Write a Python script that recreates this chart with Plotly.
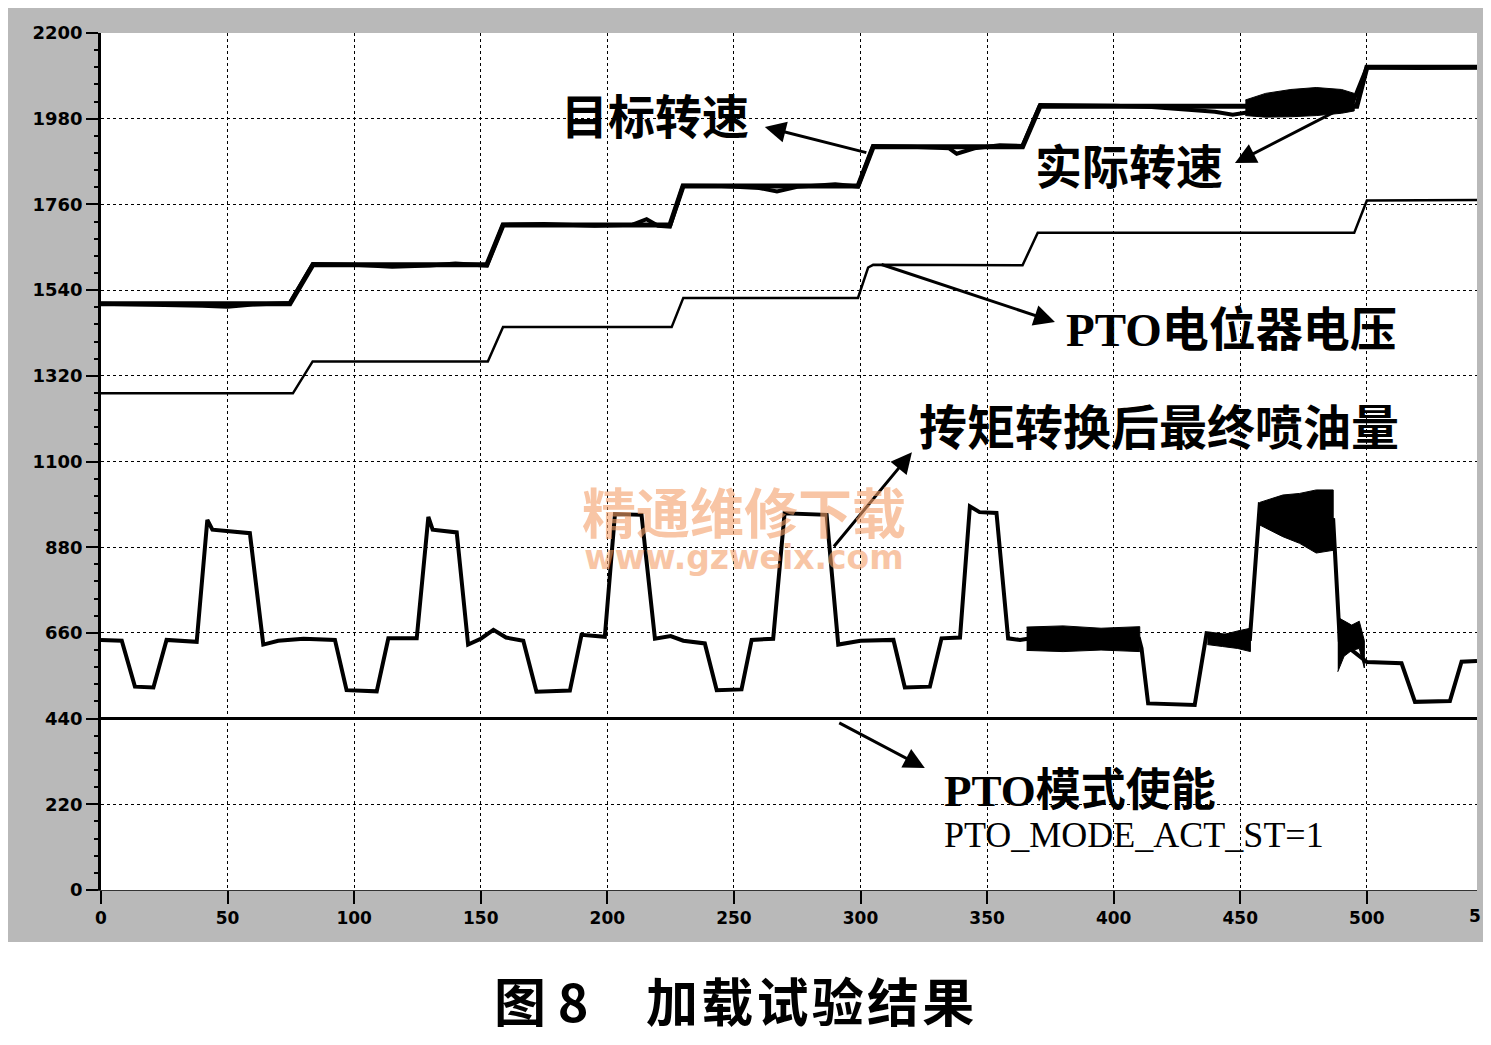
import plotly.graph_objects as go

# ---------------- data ----------------
x_ticks = [0, 50, 100, 150, 200, 250, 300, 350, 400, 450, 500, 550]
y_ticks = [0, 220, 440, 660, 880, 1100, 1320, 1540, 1760, 1980, 2200]

# 目标转速 (target speed)
target_t = [0, 74.6, 83.7, 152.4, 158.8, 224.7, 229.9, 299, 305, 364, 370.9, 496, 500, 543.5]
target_v = [1505, 1505, 1605, 1605, 1707, 1707, 1807, 1807, 1908, 1908, 2012, 2012, 2112, 2112]

# 实际转速 (actual speed)
actual_t = [0, 20, 40, 50, 60, 74.6, 83.7, 100, 115, 130, 140, 152.4, 158.8, 175, 195, 210,
            215.5, 220, 224.7, 229.9, 245, 260, 267, 275, 285, 290, 299, 305, 320, 335, 338,
            345, 355, 364, 370.9, 385, 400, 415, 430, 440, 447, 452, 494, 500, 520, 543.5]
actual_v = [1505, 1503, 1500, 1497, 1503, 1507, 1607, 1605, 1600, 1603, 1608, 1603, 1708, 1710,
            1705, 1708, 1722, 1705, 1703, 1808, 1807, 1802, 1793, 1805, 1808, 1812, 1806, 1910,
            1908, 1904, 1890, 1904, 1912, 1910, 2015, 2015, 2013, 2010, 2003, 1998, 1990, 1995,
            2015, 2112, 2110, 2112]

# speed oscillation envelope
speed_band_t = [452, 460, 470, 480, 490, 495]
speed_band_hi = [2028, 2045, 2055, 2060, 2055, 2045]
speed_band_lo = [1988, 1984, 1985, 1988, 1994, 2000]

# PTO电位器电压 (PTO potentiometer voltage)
pot_t = [0, 75.8, 83.6, 152.8, 158.8, 225.4, 230, 299, 303, 305, 364, 370, 495, 500, 543.5]
pot_v = [1275, 1275, 1357, 1357, 1445, 1445, 1520, 1520, 1598, 1605, 1604, 1687, 1687, 1770, 1771]

# 抟矩转换后最终喷油量 (final fuel injection quantity)
fuel_t = [0, 8.2, 13.4, 20.7, 25.9, 37.8, 42, 44, 58.8, 64.1, 70, 80, 92.4, 97, 108.9, 113.5,
          124.7, 129.3, 131, 140.5, 145, 150, 155, 160, 166.8, 172, 185.2, 189.8, 199, 203,
          213.5, 218.8, 225, 230, 238.5, 243.2, 253, 257, 265.5, 270, 286.6, 291.2, 300, 313,
          317.5, 327.4, 332, 339.3, 343.2, 347, 353.7, 358.3, 363, 366, 410, 411, 413.6, 432,
          436.7, 453.8, 457.7, 486.7, 489.3, 497.2, 500, 513.7, 519, 532.8, 537.4, 543.5]
fuel_v = [642, 640, 522, 520, 642, 637, 950, 925, 916, 630, 640, 645, 642, 513, 510, 646,
          646, 958, 925, 918, 630, 645, 668, 648, 640, 509, 512, 655, 650, 965,
          963, 645, 652, 640, 633, 513, 515, 642, 645, 967, 963, 630, 640, 642,
          520, 522, 646, 648, 985, 970, 968, 646, 642, 645, 645, 620, 479, 475,
          659, 645, 990, 950, 640, 600, 585, 582, 483, 485, 586, 588]

# fuel oscillation envelopes
fuel_bandA_t = [365.6, 380, 395, 410.3]
fuel_bandA_hi = [675, 678, 672, 676]
fuel_bandA_lo = [615, 612, 616, 612]
fuel_bandB_t = [437, 443, 449, 454]
fuel_bandB_hi = [660, 655, 665, 672]
fuel_bandB_lo = [630, 625, 620, 612]
fuel_bandC_t = [457.7, 466.8, 473.4, 480, 486.7]
fuel_bandC_hi = [995, 1014, 1018, 1027, 1027]
fuel_bandC_lo = [937, 907, 890, 865, 872]
fuel_bandD_t = [488.5, 491, 494, 497, 499]
fuel_bandD_hi = [700, 690, 680, 690, 640]
fuel_bandD_lo = [560, 600, 615, 620, 570]

# PTO模式使能 (PTO_MODE_ACT_ST=1)
mode_t = [0, 543.5]
mode_v = [440, 440]

# ---------------- figure ----------------
# page has an 8px body margin; figure is sized/placed to fill the window
FIG_W, FIG_H = 1475, 1029
PLOT_W, PLOT_H = 1376, 857

fig = go.Figure()


def band(t, hi, lo):
    fig.add_trace(go.Scatter(x=t + t[::-1], y=hi + lo[::-1], mode="lines", fill="toself",
                             fillcolor="black", line=dict(color="black", width=1),
                             hoverinfo="skip", showlegend=False))


fig.add_trace(go.Scatter(x=mode_t, y=mode_v, mode="lines", line=dict(color="black", width=3),
                         name="PTO模式使能"))
fig.add_trace(go.Scatter(x=pot_t, y=pot_v, mode="lines", line=dict(color="black", width=2.5),
                         name="PTO电位器电压"))
fig.add_trace(go.Scatter(x=target_t, y=target_v, mode="lines", line=dict(color="black", width=5),
                         name="目标转速"))
fig.add_trace(go.Scatter(x=actual_t, y=actual_v, mode="lines", line=dict(color="black", width=4),
                         name="实际转速"))
band(speed_band_t, speed_band_hi, speed_band_lo)
fig.add_trace(go.Scatter(x=fuel_t, y=fuel_v, mode="lines", line=dict(color="black", width=4),
                         name="最终喷油量"))
band(fuel_bandA_t, fuel_bandA_hi, fuel_bandA_lo)
band(fuel_bandB_t, fuel_bandB_hi, fuel_bandB_lo)
band(fuel_bandC_t, fuel_bandC_hi, fuel_bandC_lo)
band(fuel_bandD_t, fuel_bandD_hi, fuel_bandD_lo)

label_font = dict(family="Liberation Serif, Noto Sans CJK SC", color="black", weight="bold")
labels = [
    ("目标转速", 219, 1982, 47),
    ("实际转速", 406, 1853, 47),
    ("PTO电位器电压", 446.5, 1437, 47),
    ("抟矩转换后最终喷油量", 418, 1186, 48),
    ("PTO模式使能", 386.5, 254, 45),
]
annotations = []
for txt, x, y, s in labels:
    f = dict(label_font)
    f["size"] = s
    annotations.append(dict(x=x, y=y, xref="x", yref="y", text=txt, showarrow=False, font=f,
                            xanchor="center", yanchor="middle"))
annotations.append(dict(x=408, y=140, xref="x", yref="y", text="PTO_MODE_ACT_ST=1", showarrow=False,
                        xanchor="center", yanchor="middle",
                        font=dict(family="Liberation Serif", size=36, color="black")))

# arrows: head at the label end, tail on the curve
arrows = [
    (262.2, 1959, 302.9, 1892),
    (447.9, 1866, 494.0, 2020),
    (376.8, 1458, 307.7, 1607),
    (320.3, 1124, 289.0, 878),
    (325.4, 313, 291.0, 431),
]
for hx, hy, tx, ty in arrows:
    annotations.append(dict(x=hx, y=hy, xref="x", yref="y", ax=tx, ay=ty, axref="x", ayref="y",
                            text="", showarrow=True, arrowhead=2, arrowsize=1.4, arrowwidth=3,
                            arrowcolor="black"))

# watermark (two lines in one text block)
annotations.append(dict(x=254, y=940, xref="x", yref="y",
                        text="<span style='font-size:54px;font-family:Noto Sans CJK SC'>精通维修下载</span>"
                             "<br><span style='font-size:33px'>www.gzweix.com</span>",
                        showarrow=False, xanchor="center", yanchor="middle",
                        font=dict(family="DejaVu Sans", size=27, color="#f4a06a", weight="bold"),
                        opacity=0.6))

# clipped last x tick label
annotations.append(dict(x=1 + 6 / PLOT_W, y=-26 / PLOT_H, xref="paper", yref="paper", text="5",
                        showarrow=False, xanchor="right", yanchor="middle",
                        font=dict(family="DejaVu Sans", size=17, color="black", weight="bold")))

# caption
annotations.append(dict(x=(541 - 101) / PLOT_W, y=-110 / PLOT_H, xref="paper", yref="paper",
                        text="图 8", showarrow=False, xanchor="center", yanchor="middle",
                        font=dict(family="Noto Sans CJK SC", size=52, color="black", weight="bold")))
annotations.append(dict(x=(810 - 101) / PLOT_W, y=-110 / PLOT_H, xref="paper", yref="paper",
                        text="加\u200a载\u200a试\u200a验\u200a结\u200a果", showarrow=False,
                        xanchor="center", yanchor="middle",
                        font=dict(family="Noto Sans CJK SC", size=52, color="black", weight="bold")))

fig.update_layout(
    width=FIG_W, height=FIG_H,
    autosize=False,
    margin=dict(l=93, r=FIG_W - 93 - PLOT_W, t=25, b=FIG_H - 25 - PLOT_H, pad=0),
    paper_bgcolor="#b9b9b9",
    plot_bgcolor="white",
    showlegend=False,
    annotations=annotations,
    shapes=[dict(type="rect", xref="paper", yref="paper", x0=-0.2, x1=1.2,
                 y0=-0.4, y1=-52 / PLOT_H, fillcolor="white", line=dict(width=0),
                 layer="below")],
    xaxis=dict(range=[0, 543.5], tickvals=x_ticks, ticktext=[str(v) for v in x_ticks],
               showgrid=True, gridcolor="black", griddash="dot", gridwidth=1,
               zeroline=False, showline=True, linecolor="#333", linewidth=1,
               ticks="outside", ticklen=13, tickwidth=2, tickcolor="black",
               tickfont=dict(family="DejaVu Sans", size=17, color="black", weight="bold")),
    yaxis=dict(range=[0, 2200], tickvals=y_ticks, ticktext=[str(v) for v in y_ticks],
               showgrid=True, gridcolor="black", griddash="dot", gridwidth=1,
               zeroline=False, showline=True, linecolor="black", linewidth=2.5,
               ticks="outside", ticklen=12, tickwidth=2, tickcolor="black",
               minor=dict(ticks="outside", ticklen=4, dtick=44, tickcolor="black", showgrid=False),
               tickfont=dict(family="DejaVu Sans", size=18, color="black", weight="bold")),
)

fig.write_html("out.html")
